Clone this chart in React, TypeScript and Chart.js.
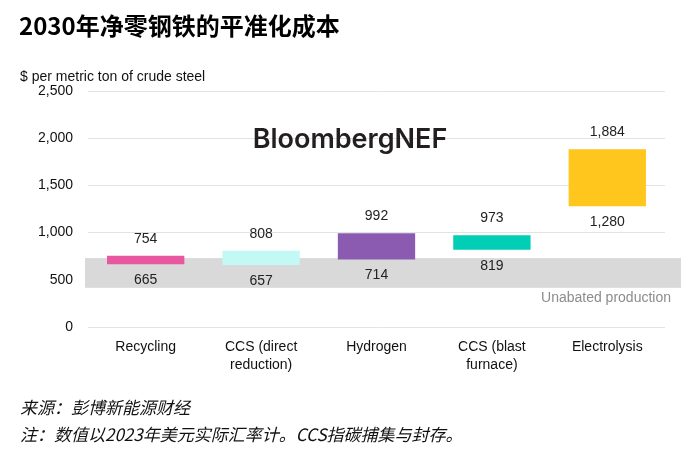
import React, { useEffect, useRef } from "react";
import { Chart, registerables } from "chart.js";

Chart.register(...registerables);

const categories: (string | string[])[] = [
  "Recycling",
  ["CCS (direct", "reduction)"],
  "Hydrogen",
  ["CCS (blast", "furnace)"],
  "Electrolysis",
];
const lowValues = [665, 657, 714, 819, 1280];
const highValues = [754, 808, 992, 973, 1884];
const barColors = ["#E8579F", "#C2F9F5", "#8A5BB1", "#00CFB5", "#FFC61E"];
const unabatedRange = [415, 730];
const yTicks = [0, 500, 1000, 1500, 2000, 2500];

const TITLE = "2030年净零钢铁的平准化成本";
const UNIT = "$ per metric ton of crude steel";
const SOURCE = "来源：彭博新能源财经";
const NOTE = "注：数值以2023年美元实际汇率计。CCS指碳捕集与封存。";
const BAND_LABEL = "Unabated production";
const LOGO = "BloombergNEF";

const SANS = "'Liberation Sans', Arial, sans-serif";
const CJK = "'Noto Sans CJK SC', sans-serif";

export default function App() {
  const ref = useRef<HTMLCanvasElement | null>(null);

  useEffect(() => {
    if (!ref.current) return;

    const decor = {
      id: "decor",
      beforeDatasetsDraw(chart: any) {
        const { ctx, chartArea, scales } = chart;
        const y = scales.y;
        const top = y.getPixelForValue(unabatedRange[1]);
        const bot = y.getPixelForValue(unabatedRange[0]);
        ctx.save();
        ctx.fillStyle = "#D9D9D9";
        ctx.fillRect(chartArea.left - 3, top, chartArea.right - chartArea.left + 19, bot - top);
        ctx.restore();
      },
      afterDatasetsDraw(chart: any) {
        const { ctx, chartArea, scales } = chart;
        const x = scales.x;
        const y = scales.y;
        ctx.save();
        ctx.font = `14px ${SANS}`;
        ctx.fillStyle = "#222";
        ctx.textAlign = "center";
        ctx.textBaseline = "middle";
        for (let i = 0; i < categories.length; i++) {
          const cx = x.getPixelForValue(i);
          const hi = y.getPixelForValue(highValues[i]);
          const lo = y.getPixelForValue(lowValues[i]);
          ctx.fillText(highValues[i].toLocaleString("en-US"), cx, hi - 17);
          ctx.fillText(lowValues[i].toLocaleString("en-US"), cx, lo + 16);
        }
        // band label
        ctx.fillStyle = "#8C8C8C";
        ctx.textAlign = "right";
        const bot = y.getPixelForValue(unabatedRange[0]);
        ctx.fillText(BAND_LABEL, chartArea.right + 6, bot + 10);
        // logo
        ctx.fillStyle = "#231F20";
        ctx.textAlign = "center";
        ctx.font = `600 27px Inter, 'Open Sans', sans-serif`;
        ctx.fillText(LOGO, 350, 140);
        // title & unit
        ctx.textAlign = "left";
        ctx.textBaseline = "alphabetic";
        ctx.fillStyle = "#000";
        ctx.font = `bold 24px ${CJK}`;
        ctx.fillText(TITLE, 19, 35);
        ctx.fillStyle = "#111";
        ctx.font = `14px ${SANS}`;
        ctx.fillText(UNIT, 20, 81);
        // footer
        ctx.fillStyle = "#111";
        ctx.font = `italic 17px ${CJK}`;
        ctx.fillText(SOURCE, 20, 414);
        ctx.fillText(NOTE, 20, 441);
        ctx.restore();
      },
    };

    const chart = new Chart(ref.current, {
      type: "bar",
      data: {
        labels: categories,
        datasets: [
          {
            data: lowValues.map((v, i) => [v, highValues[i]]) as any,
            backgroundColor: barColors,
            borderWidth: 0,
            barPercentage: 0.67,
            categoryPercentage: 1,
          },
        ],
      },
      options: {
        animation: false,
        responsive: false,
        maintainAspectRatio: false,
        layout: { padding: { top: 91, right: 35, bottom: 0, left: 0 } },
        plugins: {
          legend: { display: false },
          tooltip: { enabled: false },
          title: { display: false },
        },
        scales: {
          x: {
            grid: { display: false, drawTicks: false },
            border: { display: false },
            ticks: {
              color: "#111",
              font: { family: SANS, size: 14, lineHeight: 1.3 },
              padding: 11,
              maxRotation: 0,
              autoSkip: false,
            },
            afterFit(scale: any) {
              scale.height = 126;
            },
          },
          y: {
            min: 0,
            max: 2500,
            afterBuildTicks(scale: any) {
              scale.ticks = yTicks.map((v) => ({ value: v }));
            },
            grid: { color: "#E3E3E3", lineWidth: 1, drawTicks: false },
            border: { display: false },
            ticks: {
              color: "#111",
              font: { family: SANS, size: 14 },
              padding: 15,
              callback: (v: any) => Number(v).toLocaleString("en-US"),
            },
            afterFit(scale: any) {
              scale.width = 88;
            },
          },
        },
      },
      plugins: [decor],
    });
    return () => chart.destroy();
  }, []);

  return (
    <div style={{ position: "fixed", left: 0, top: 0, width: 700, height: 453, background: "#fff" }}>
      <canvas ref={ref} width={700} height={453} style={{ width: 700, height: 453, display: "block" }} />
    </div>
  );
}
